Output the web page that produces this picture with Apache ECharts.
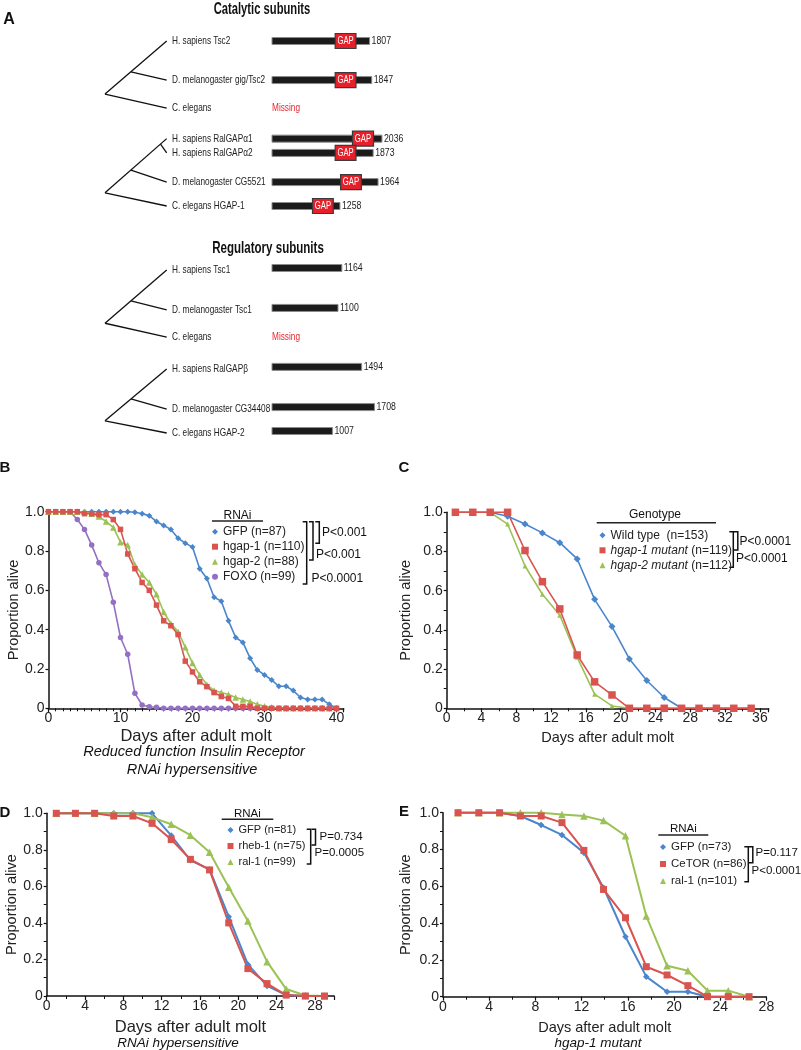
<!DOCTYPE html>
<html><head><meta charset="utf-8">
<script src="https://cdn.jsdelivr.net/npm/echarts@6/dist/echarts.min.js"></script>
<style>html,body{margin:0;padding:0;background:#fff}#c{width:801px;height:1050px}</style>
</head><body><div id="c"></div>
<script>
// ================= DATA =================
// Panel A: catalytic subunits
const catNames = ['H. sapiens Tsc2','D. melanogaster gig/Tsc2','C. elegans','H. sapiens RalGAPα1','H. sapiens RalGAPα2','D. melanogaster CG5521','C. elegans HGAP-1'];
const catLengths = [1807,1847,null,2036,1873,1964,1258];
const catGapStart = [1170,1170,null,1490,1170,1270,750];
const catGapEnd = [1555,1555,null,1880,1555,1655,1135];
// Panel A: regulatory subunits
const regNames = ['H. sapiens Tsc1','D. melanogaster Tsc1','C. elegans','H. sapiens RalGAPβ','D. melanogaster CG34408','C. elegans HGAP-2'];
const regLengths = [1164,1100,null,1494,1708,1007];

// Panel B
const daysB = [0,1,2,3,4,5,6,7,8,9,10,11,12,13,14,15,16,17,18,19,20,21,22,23,24,25,26,27,28,29,30,31,32,33,34,35,36,37,38,39,40];
const bGFP   = [1,1,1,1,1,1,1,1,1,1,1,1,0.997,0.99,0.98,0.95,0.93,0.91,0.865,0.84,0.82,0.71,0.66,0.565,0.545,0.445,0.36,0.335,0.255,0.195,0.17,0.144,0.112,0.112,0.09,0.055,0.045,0.045,0.045,0.02,0];
const bHgap1 = [1,1,1,1,1,0.99,0.99,0.985,0.985,0.96,0.91,0.785,0.71,0.64,0.6,0.525,0.445,0.42,0.375,0.24,0.185,0.135,0.11,0.08,0.06,0.05,0.01,0.01,0.01,0,0,0,0,0,0,0,0,0,0,0,0];
const bHgap2 = [1,1,1,1,1,1,0.99,0.975,0.95,0.92,0.845,0.83,0.73,0.68,0.64,0.58,0.49,0.43,0.39,0.31,0.23,0.17,0.12,0.09,0.08,0.07,0.055,0.045,0.035,0.02,0.01,0.005,0,0,0,0,0,0,0,0,0];
const bFOXO  = [1,1,1,1,0.96,0.91,0.83,0.74,0.68,0.54,0.36,0.275,0.076,0.017,0.008,0.005,0,0,0,0,0,0,0,0,0,0,0,0,0,0,0,0,0,0,0,0,0,0,0,0,0];

// Panel C
const daysC = [1,3,5,7,9,11,13,15,17,19,21,23,25,27,29,31,33,35];
const cWT    = [1,1,1,0.98,0.94,0.895,0.845,0.762,0.556,0.417,0.252,0.142,0.055,0,0,0,0,0];
const cHgap1 = [1,1,1,1,0.805,0.646,0.507,0.272,0.135,0.068,0,0,0,0,0,0,0,0];
const cHgap2 = [1,1,1,0.94,0.726,0.582,0.475,0.26,0.072,0.012,0,0,0,0,0,0,0,0];

// Panel D
const daysD = [1,3,5,7,9,11,13,15,17,19,21,23,25,27,29];
const dGFP  = [1,1,1,1,1,1,0.878,0.743,0.693,0.434,0.173,0.055,0.005,0,0];
const dRheb = [1,1,1,0.985,0.985,0.945,0.856,0.748,0.69,0.4,0.15,0.068,0.005,0,0];
const dRal  = [1,1,1,1,1,0.978,0.94,0.88,0.787,0.595,0.41,0.188,0.038,0.003,0];

// Panel E
const daysE = [1.3,3.1,4.9,6.7,8.5,10.3,12.2,13.9,15.8,17.6,19.4,21.2,22.9,24.7,26.5];
const eGFP = [1,1,1,0.982,0.933,0.879,0.783,0.592,0.326,0.109,0.027,0.027,0,0,0];
const eTOR = [1,1,1,0.982,0.982,0.946,0.795,0.583,0.429,0.163,0.118,0.06,0,0,0];
const eRal = [1,1,1,1,1,0.99,0.982,0.957,0.875,0.438,0.168,0.141,0.033,0.033,0];

// tick labels
const yTicks = [0,0.2,0.4,0.6,0.8,1.0];

// ================= LAYOUT =================
const catRows = [0,1.42,2.44,3.55,4.07,5.13,6];
const regRows = [0,1.47,2.47,3.64,5.12,6];
const catTrees = [{root:1.93, top:0, mids:[{d:0.42, leaf:1}], bottom:2},
                  {root:5.52, top:3, mids:[{d:0.9, leaf:4},{d:0.42, leaf:5}], bottom:6}];
const regTrees = [{root:1.96, top:0, mids:[{d:0.42, leaf:1}], bottom:2},
                  {root:5.55, top:3, mids:[{d:0.42, leaf:4}], bottom:5}];

const SANS = "'Liberation Sans', Arial, Helvetica, sans-serif";
const NARROW_SCALE = 0.7;   // horizontal squeeze to imitate a condensed face
const C_BLUE = '#4a86cc', C_RED = '#d9534f', C_GREEN = '#9cc155', C_PURPLE = '#9370c2';

function treeEdges(trees, rows) {
  const out = [];
  trees.forEach(t => {
    const yTop = rows[t.top];
    out.push([0, t.root, 1, yTop]);
    t.mids.forEach(m => {
      const y = t.root + m.d * (yTop - t.root);
      out.push([m.d, y, 1, rows[m.leaf]]);
    });
    out.push([0, t.root, 1, rows[t.bottom]]);
  });
  return out;
}
function treeRender(params, api) {
  const a = api.coord([api.value(0), api.value(1)]);
  const b = api.coord([api.value(2), api.value(3)]);
  return {type:'line', shape:{x1:a[0], y1:a[1], x2:b[0], y2:b[1]}, style:{stroke:'#111', lineWidth:1.3}};
}
function txtStyle(text, font, fill, align, valign) {
  return {text, font, fill, align, verticalAlign: valign, textAlign: align, textVerticalAlign: valign};
}
function narrowText(text, x, y, size, fill, align, weight, scale) {
  return {type:'text', x:x, y:y, scaleX: scale || NARROW_SCALE, scaleY:1, silent:true,
    style: txtStyle(text, (weight ? weight + ' ' : '') + size + 'px ' + SANS, fill, align, 'middle')};
}
function barRender(names, lengths, gs, ge, rows, barDy) {
  return function(params, api) {
    const i = params.dataIndex;
    const p0 = api.coord([0, rows[i]]);
    const x0 = p0[0], y = p0[1];
    const kids = [narrowText(names[i], x0 - 100, y, 11.8, '#222', 'left')];
    if (lengths[i] == null) {
      kids.push(narrowText('Missing', x0, y, 11.8, '#e8262d', 'left'));
    } else {
      const yb = y + barDy;
      const x1 = api.coord([lengths[i], rows[i]])[0];
      kids.push({type:'rect', shape:{x:x0, y:yb - 3.5, width:x1 - x0, height:7}, style:{fill:'#1b1b1b', stroke:'#8c8c8c', lineWidth:1}});
      if (gs && gs[i] != null) {
        const g0 = api.coord([gs[i], rows[i]])[0], g1 = api.coord([ge[i], rows[i]])[0];
        kids.push({type:'rect', shape:{x:g0, y:yb - 7.5, width:g1 - g0, height:15}, style:{fill:'#e5202a', stroke:'#3a3a3a', lineWidth:1.2}});
        kids.push(narrowText('GAP', (g0 + g1) / 2, yb, 11, '#fff', 'center', null, 0.7));
      }
      kids.push(narrowText(String(lengths[i]), x1 + 2, yb, 11.8, '#222', 'left', null, 0.74));
    }
    return {type:'group', children:kids};
  };
}

// ================= GRIDS & AXES =================
const grids = [
  {left:105, top:41, width:61.7, height:165},     // 0 cat tree
  {left:272, top:41, width:129.6, height:165},    // 1 cat bars (0.054 px/aa)
  {left:105, top:270, width:61.7, height:163},    // 2 reg tree
  {left:272, top:270, width:144, height:163},     // 3 reg bars (0.06 px/aa)
  {left:48.5, top:511.7, width:295.2, height:196.6}, // 4 B
  {left:446.7, top:512.3, width:321.9, height:196},  // 5 C
  {left:46.7, top:813.3, width:287.4, height:182.7}, // 6 D
  {left:443, top:812.7, width:323.4, height:184}     // 7 E
].map(g => Object.assign({outerBoundsMode:'none', containLabel:false}, g));

const AXC = '#111';
function xPlot(gi, max, interval, minorSplit, labelSize, name, nameSize, nameGap) {
  return {
    type:'value', gridIndex:gi, min:0, max:max, interval:interval,
    axisLine:{show:true, onZero:false, lineStyle:{color:AXC, width:1.5}},
    axisTick:{show:true, length:4, lineStyle:{color:AXC, width:1.2}},
    minorTick:{show:true, splitNumber:minorSplit, length:3, lineStyle:{color:AXC, width:1}},
    splitLine:{show:false}, minorSplitLine:{show:false},
    axisLabel:{fontSize:labelSize, fontFamily:SANS, color:'#222', margin:3,
      formatter: v => (Math.abs(v % interval) < 1e-9 ? String(v) : '')},
    name:name, nameLocation:'middle', nameGap:nameGap,
    nameTextStyle:{fontSize:nameSize, fontFamily:SANS, color:'#222'}
  };
}
function yPlot(gi, minorSplit, nameGap) {
  return {
    type:'value', gridIndex:gi, min:0, max:1, interval:0.2,
    axisLine:{show:true, onZero:false, lineStyle:{color:AXC, width:1.5}},
    axisTick:{show:true, length:3, lineStyle:{color:AXC, width:1.2}},
    minorTick:{show: minorSplit > 0, splitNumber: minorSplit || 5, length:3, lineStyle:{color:AXC, width:1}},
    splitLine:{show:false}, minorSplitLine:{show:false},
    axisLabel:{fontSize:14, fontFamily:SANS, color:'#222', margin:4,
      formatter: v => { const k = yTicks.findIndex(t => Math.abs(t - v) < 1e-9); return k < 0 ? '' : (v === 0 ? '0' : yTicks[k].toFixed(1)); }},
    name:'Proportion alive', nameLocation:'middle', nameGap:nameGap,
    nameTextStyle:{fontSize:14.5, fontFamily:SANS, color:'#222'}
  };
}
const hiddenX = (gi, max) => ({type:'value', gridIndex:gi, min:0, max:max, show:false});
const hiddenY = (gi) => ({type:'value', gridIndex:gi, min:0, max:6, inverse:true, show:false});

const xAxes = [hiddenX(0,1), hiddenX(1,2400), hiddenX(2,1), hiddenX(3,2400),
  xPlot(4, 41, 10, 10, 14, 'Days after adult molt', 16.5, 20),
  xPlot(5, 37, 4, 2, 14, 'Days after adult molt', 14.5, 22),
  xPlot(6, 30, 4, 2, 14, 'Days after adult molt', 16.5, 23),
  xPlot(7, 28, 4, 2, 14, 'Days after adult molt', 14.5, 24)];
const yAxes = [hiddenY(0), hiddenY(1), hiddenY(2), hiddenY(3),
  yPlot(4, 0, 24), yPlot(5, 2, 33), yPlot(6, 2, 24), yPlot(7, 2, 30)];

// ================= SERIES =================
function ln(name, gi, xs, ys, color, symbol, size, width, extra) {
  return Object.assign({
    type:'line', name:name, xAxisIndex:gi, yAxisIndex:gi,
    data: xs.map((x, i) => [x, ys[i]]),
    symbol:symbol, symbolSize:size, showSymbol:true, showAllSymbol:true, clip:false,
    lineStyle:{color:color, width:width}, itemStyle:{color:color},
    emphasis:{disabled:true}, animation:false
  }, extra || {});
}
const series = [
  {type:'custom', name:'catTree', xAxisIndex:0, yAxisIndex:0, data:treeEdges(catTrees, catRows), encode:{x:[0,2], y:[1,3]}, renderItem:treeRender, silent:true},
  {type:'custom', name:'regTree', xAxisIndex:2, yAxisIndex:2, data:treeEdges(regTrees, regRows), encode:{x:[0,2], y:[1,3]}, renderItem:treeRender, silent:true},
  {type:'custom', name:'catBars', xAxisIndex:1, yAxisIndex:1, data:catRows.map((r, i) => [catLengths[i] || 0, r]), encode:{x:0, y:1},
    renderItem:barRender(catNames, catLengths, catGapStart, catGapEnd, catRows, 0), silent:true},
  {type:'custom', name:'regBars', xAxisIndex:3, yAxisIndex:3, data:regRows.map((r, i) => [regLengths[i] || 0, r]), encode:{x:0, y:1},
    renderItem:barRender(regNames, regLengths, null, null, regRows, -2), silent:true},
  // B
  ln('GFP (n=87)', 4, daysB, bGFP, C_BLUE, 'diamond', 6, 1.6),
  ln('FOXO (n=99)', 4, daysB, bFOXO, C_PURPLE, 'circle', 5.5, 1.6),
  ln('hgap-2 (n=88)', 4, daysB, bHgap2, C_GREEN, 'triangle', 6.5, 1.6),
  ln('hgap-1 (n=110)', 4, daysB, bHgap1, C_RED, 'rect', 5.5, 1.6),
  // C
  ln('Wild type  (n=153)', 5, daysC, cWT, C_BLUE, 'diamond', 7, 1.6),
  ln('hgap-2 mutant (n=112)', 5, daysC, cHgap2, C_GREEN, 'triangle', 5, 1.6),
  ln('hgap-1 mutant (n=119)', 5, daysC, cHgap1, C_RED, 'rect', 7.5, 1.6),
  // D
  ln('GFP (n=81)', 6, daysD, dGFP, C_BLUE, 'diamond', 6.5, 2),
  ln('ral-1 (n=99)', 6, daysD, dRal, C_GREEN, 'triangle', 7.5, 2),
  ln('rheb-1 (n=75)', 6, daysD, dRheb, C_RED, 'rect', 7, 2),
  // E
  ln('GFP (n=73)', 7, daysE, eGFP, C_BLUE, 'diamond', 6.5, 2),
  ln('ral-1 (n=101)', 7, daysE, eRal, C_GREEN, 'triangle', 7.5, 2),
  ln('CeTOR (n=86)', 7, daysE, eTOR, C_RED, 'rect', 7, 2)
];

// ================= LEGENDS =================
function lg(left, top, gap, fontSize, items, extra) {
  return Object.assign({
    left:left, top:top, orient:'vertical', padding:0, itemGap:gap, itemWidth:6, itemHeight:6,
    selectedMode:false, inactiveColor:'#222',
    textStyle:{fontSize:fontSize, fontFamily:SANS, color:'#222', lineHeight:fontSize},
    data: items.map(it => ({name:it[0], icon:it[1]}))
  }, extra || {});
}
const legends = [
  lg(212, 525.7, 3, 12, [['GFP (n=87)','diamond'],['hgap-1 (n=110)','rect'],['hgap-2 (n=88)','triangle'],['FOXO (n=99)','circle']]),
  lg(599.5, 529.3, 3, 12, [['Wild type  (n=153)','diamond'],['hgap-1 mutant (n=119)','rect'],['hgap-2 mutant (n=112)','triangle']], {
    formatter: name => { const k = name.indexOf(' ('); return name.indexOf('mutant') >= 0 ? '{i|' + name.slice(0, k) + '}' + name.slice(k) : name; },
    textStyle:{fontSize:12, fontFamily:SANS, color:'#222', lineHeight:12, rich:{i:{fontStyle:'italic', fontSize:12, fontFamily:SANS, color:'#222'}}}
  }),
  lg(227.5, 824.5, 5, 11, [['GFP (n=81)','diamond'],['rheb-1 (n=75)','rect'],['ral-1 (n=99)','triangle']]),
  lg(660, 841, 5, 11.5, [['GFP (n=73)','diamond'],['CeTOR (n=86)','rect'],['ral-1 (n=101)','triangle']])
];

// ================= ANNOTATIONS =================
function T(text, x, y, font, align, fill) {
  return {type:'text', x:x, y:y, silent:true, style: txtStyle(text, font, fill || '#111', align || 'center', 'middle')};
}
function L(x1, y1, x2, y2, w) {
  return {type:'line', silent:true, shape:{x1, y1, x2, y2}, style:{stroke:'#222', lineWidth:w || 1.4}};
}
function BR(x, y1, y2) {
  return {type:'polyline', silent:true, shape:{points:[[x - 4, y1],[x, y1],[x, y2],[x - 4, y2]]}, style:{stroke:'#111', lineWidth:1.5, fill:null}};
}
const graphics = [
  T('A', 9, 20, 'bold 16px ' + SANS),
  narrowText('Catalytic subunits', 262, 9.5, 16.5, '#111', 'center', 'bold', 0.68),
  narrowText('Regulatory subunits', 268, 248, 16.5, '#111', 'center', 'bold', 0.7),
  T('B', 5, 468, 'bold 15px ' + SANS),
  T('C', 404, 468, 'bold 15px ' + SANS),
  T('D', 5, 813, 'bold 15px ' + SANS),
  T('E', 404, 812, 'bold 15px ' + SANS),
  T('Reduced function Insulin Receptor', 194, 752, 'italic 14.5px ' + SANS),
  T('RNAi hypersensitive', 192, 770, 'italic 14.5px ' + SANS),
  T('RNAi hypersensitive', 178, 1043, 'italic 13.5px ' + SANS),
  T('hgap-1 mutant', 598, 1043.5, 'italic 13.5px ' + SANS),
  // legend headers
  T('RNAi', 237.5, 515.5, '12px ' + SANS), L(212, 521, 263, 521),
  T('Genotype', 655, 515, '12px ' + SANS), L(596.7, 522.7, 716, 522.7),
  T('RNAi', 247.3, 813.5, '11.5px ' + SANS), L(221.7, 819.3, 273.3, 819.3),
  T('RNAi', 683.3, 829, '11.5px ' + SANS), L(658.3, 835, 708.3, 835),
  // B brackets
  BR(306.7, 521.7, 584), BR(313, 521.7, 560), BR(319.3, 521.7, 543.3),
  T('P<0.001', 322, 532.7, '12px ' + SANS, 'left'),
  T('P<0.001', 316, 555, '12px ' + SANS, 'left'),
  T('P<0.0001', 311.5, 579, '12px ' + SANS, 'left'),
  // C brackets
  BR(733.3, 531.7, 567.3), BR(737.8, 531.7, 550),
  T('P<0.0001', 739.5, 541.7, '12px ' + SANS, 'left'),
  T('P<0.0001', 736, 558.3, '12px ' + SANS, 'left'),
  // D brackets
  BR(310.7, 829.3, 864), BR(315.5, 829.3, 845),
  T('P=0.734', 319.5, 836.7, '11.5px ' + SANS, 'left'),
  T('P=0.0005', 314.5, 853.3, '11.5px ' + SANS, 'left'),
  // E brackets
  BR(748.3, 846.7, 881.7), BR(752.8, 846.7, 862.7),
  T('P=0.117', 755.5, 853.3, '11.5px ' + SANS, 'left'),
  T('P<0.0001', 751.5, 870.7, '11.5px ' + SANS, 'left')
];

const chart = echarts.init(document.getElementById('c'), null, {renderer:'canvas', width:801, height:1050});
chart.setOption({
  backgroundColor:'#ffffff',
  animation:false,
  textStyle:{fontFamily:SANS},
  grid:grids, xAxis:xAxes, yAxis:yAxes, series:series, legend:legends,
  tooltip:{show:false},
  graphic:{elements:graphics}
});
</script>
</body></html>
